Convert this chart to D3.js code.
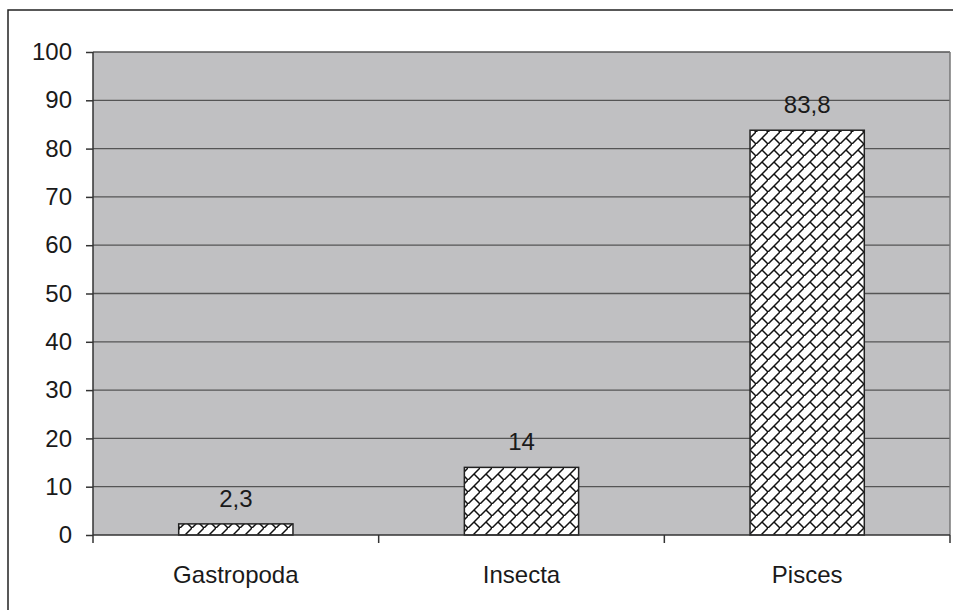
<!DOCTYPE html>
<html><head><meta charset="utf-8">
<script src="https://cdn.jsdelivr.net/npm/d3@7"></script>
<style>body{margin:0;background:#fff}svg{display:block}</style>
</head><body>
<svg id="c" width="953" height="610"></svg>
<script>
const categories = ["Gastropoda", "Insecta", "Pisces"];
const values = [2.3, 14, 83.8];
const valueLabels = ["2,3", "14", "83,8"];
const yTicks = [0, 10, 20, 30, 40, 50, 60, 70, 80, 90, 100];

const svg = d3.select("#c");
const font = "'Liberation Sans', Arial, sans-serif";
const FS = 24;
const L = 93, R = 950, T = 52, B = 535;

// outer chart border
svg.append("path").attr("d", "M8,612 L8,10 L955,10")
  .attr("fill", "none").attr("stroke", "#222").attr("stroke-width", 1.5);

const defs = svg.append("defs");
const pat = defs.append("pattern").attr("id", "brick")
  .attr("patternUnits", "userSpaceOnUse").attr("width", 12).attr("height", 12);
pat.append("rect").attr("width", 12).attr("height", 12).attr("fill", "#fff");
pat.append("path").attr("d", "M-1,13 L13,-1 M6,6 L13,13 M-1,-1 L0,0")
  .attr("stroke", "#111").attr("stroke-width", 1.5).attr("fill", "none");

const x = d3.scaleBand().domain(categories).range([L, R]).paddingInner(0.6).paddingOuter(0.3);
const y = d3.scaleLinear().domain([0, 100]).range([B, T]);

svg.append("rect").attr("x", L).attr("y", T).attr("width", R - L).attr("height", B - T)
  .attr("fill", "#c0c0c2");

// gridlines
svg.append("g").selectAll("line").data(yTicks.filter(d => d > 0)).join("line")
  .attr("x1", L).attr("x2", R).attr("y1", d => y(d)).attr("y2", d => y(d))
  .attr("stroke", "#555").attr("stroke-width", 1.3);
// right border
svg.append("line").attr("x1", R).attr("x2", R).attr("y1", T).attr("y2", B)
  .attr("stroke", "#777").attr("stroke-width", 1.5);

// bars
svg.append("g").selectAll("rect").data(values).join("rect")
  .attr("x", (d, i) => x(categories[i])).attr("width", x.bandwidth())
  .attr("y", d => y(d)).attr("height", d => y(0) - y(d))
  .attr("fill", "url(#brick)").attr("stroke", "#222").attr("stroke-width", 1.5);

// value labels
svg.append("g").selectAll("text").data(values).join("text")
  .attr("x", (d, i) => x(categories[i]) + x.bandwidth() / 2)
  .attr("y", d => y(d) - 17)
  .attr("text-anchor", "middle").attr("font-family", font).attr("font-size", FS)
  .attr("fill", "#1a1a1a").text((d, i) => valueLabels[i]);

// y axis
const yAxis = svg.append("g").attr("transform", `translate(${L},0)`)
  .call(d3.axisLeft(y).tickValues(yTicks).tickSize(7).tickPadding(14).tickFormat(d3.format("d")));
yAxis.attr("font-size", FS).attr("font-family", font);
yAxis.select(".domain").attr("stroke", "#333").attr("stroke-width", 1.5).attr("d", `M0,${T}V${B}`);
yAxis.selectAll(".tick line").attr("stroke", "#333").attr("stroke-width", 1.5);
yAxis.selectAll(".tick text").attr("font-family", font).attr("font-size", FS).attr("fill", "#1a1a1a");

// x axis
const xAxis = svg.append("g").attr("transform", `translate(0,${B})`);
xAxis.append("line").attr("x1", L).attr("x2", R).attr("stroke", "#333").attr("stroke-width", 1.5);
const bounds = [L, L + (R - L) / 3, L + 2 * (R - L) / 3, R];
xAxis.selectAll("line.tk").data(bounds).join("line").attr("class", "tk")
  .attr("x1", d => d).attr("x2", d => d).attr("y1", 0).attr("y2", 8)
  .attr("stroke", "#333").attr("stroke-width", 1.5);
xAxis.selectAll("text").data(categories).join("text")
  .attr("x", d => x(d) + x.bandwidth() / 2).attr("y", 48)
  .attr("text-anchor", "middle").attr("font-family", font).attr("font-size", FS)
  .attr("fill", "#1a1a1a").text(d => d);
</script>
</body></html>
